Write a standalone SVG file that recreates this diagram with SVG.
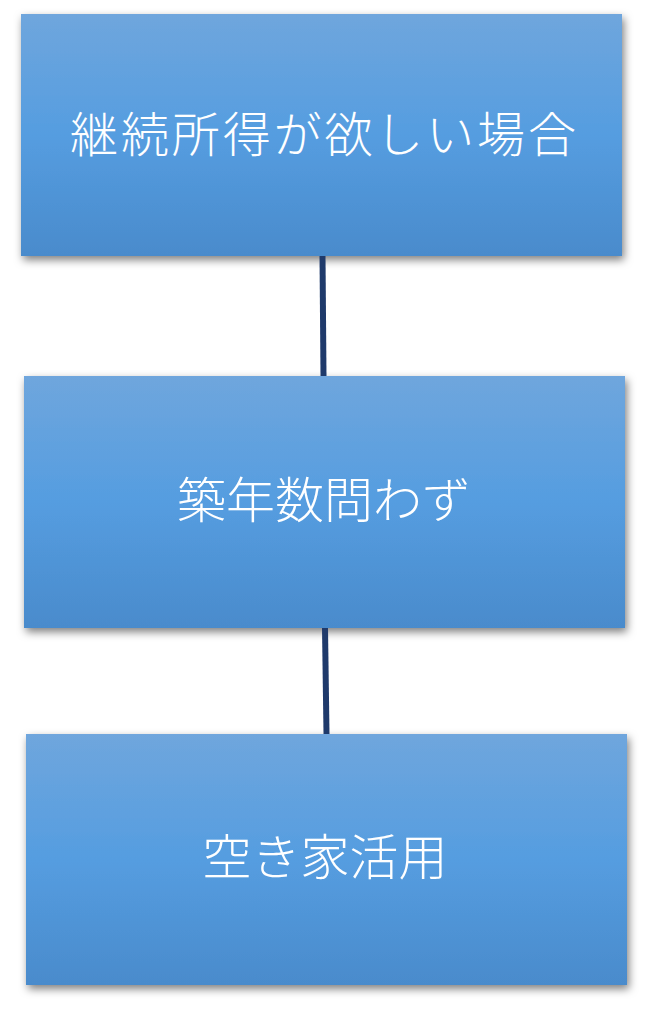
<svg xmlns="http://www.w3.org/2000/svg" width="648" height="1013" viewBox="0 0 648 1013">
<defs>
<linearGradient id="g" x1="0" y1="0" x2="0" y2="1">
<stop offset="0" stop-color="#6fa6dd"/>
<stop offset="0.5" stop-color="#559de0"/>
<stop offset="1" stop-color="#4a8bcc"/>
</linearGradient>
<filter id="sh" x="-10%" y="-10%" width="120%" height="125%">
<feDropShadow dx="2" dy="4" stdDeviation="4.5" flood-color="#000" flood-opacity="0.5"/>
</filter>
<style>
.box{fill:url(#g);filter:url(#sh)}
.lbl{font-family:"Noto Sans CJK JP","Liberation Sans",sans-serif;font-weight:300;font-size:48px;fill:#fff;text-anchor:middle;dominant-baseline:central}
.conn{stroke:#1f3a6b;stroke-width:6;fill:none}
</style>
</defs>
<rect width="648" height="1013" fill="#fff"/>
<g id="node1">
<rect class="box" x="21" y="14" width="601" height="242"/>
<text class="lbl" x="323" y="131" textLength="506" lengthAdjust="spacing">継続所得が欲しい場合</text>
</g>
<g id="node2">
<rect class="box" x="24" y="376" width="601" height="252"/>
<text class="lbl" x="324" y="496" style="font-size:49px">築年数問わず</text>
</g>
<g id="node3">
<rect class="box" x="26" y="734" width="601" height="251"/>
<text class="lbl" x="325" y="853" style="font-size:49px">空き家活用</text>
</g>
<g id="connectors">
<line class="conn" x1="322.5" y1="256" x2="323.5" y2="376"/>
<line class="conn" x1="325" y1="628" x2="326.5" y2="734"/>
</g>
</svg>
